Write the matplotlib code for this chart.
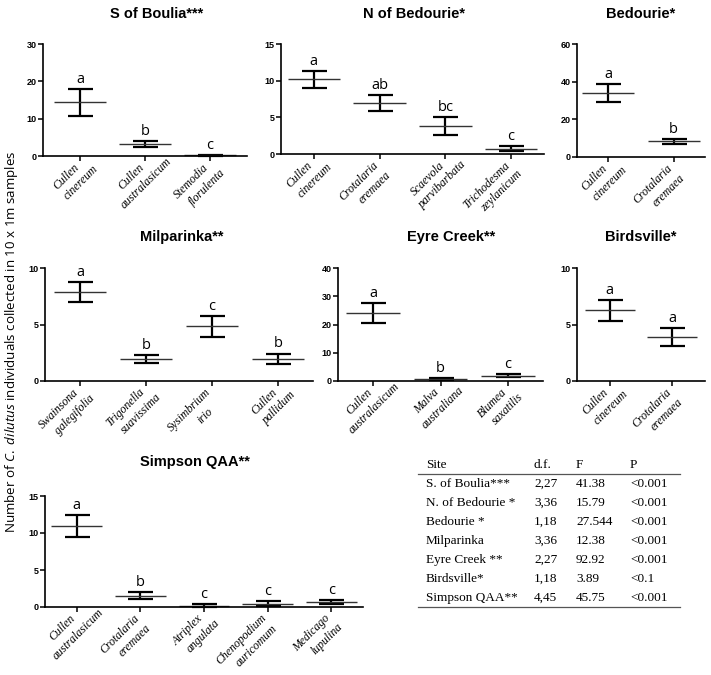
import matplotlib
matplotlib.use("Agg")
import matplotlib.pyplot as plt

# --------- DATA ----------
boulia_cats = ["Cullen\ncinereum", "Cullen\naustralasicum", "Stemodia\nflorulenta"]
boulia_mean = [14.4, 3.2, 0.2]
boulia_se = [3.6, 0.8, 0.1]
boulia_grp = ["a", "b", "c"]

nbed_cats = ["Cullen\ncinereum", "Crotalaria\neremaea", "Scaevola\nparvibarbata", "Trichodesma\nzeylanicum"]
nbed_mean = [10.2, 7.0, 3.8, 0.72]
nbed_se = [1.15, 1.1, 1.25, 0.37]
nbed_grp = ["a", "ab", "bc", "c"]

bed_cats = ["Cullen\ncinereum", "Crotalaria\neremaea"]
bed_mean = [33.8, 8.3]
bed_se = [4.7, 1.4]
bed_grp = ["a", "b"]

milp_cats = ["Swainsona\ngalegifolia", "Trigonella\nsuavissima", "Sysimbrium\nirio", "Cullen\npallidum"]
milp_mean = [7.85, 1.95, 4.85, 1.95]
milp_se = [0.9, 0.37, 0.93, 0.48]
milp_grp = ["a", "b", "c", "b"]

eyre_cats = ["Cullen\naustralasicum", "Malva\naustraliana", "Blumea\nsaxatilis"]
eyre_mean = [24.1, 0.6, 1.9]
eyre_se = [3.4, 0.4, 0.6]
eyre_grp = ["a", "b", "c"]

birds_cats = ["Cullen\ncinereum", "Crotalaria\neremaea"]
birds_mean = [6.25, 3.9]
birds_se = [0.9, 0.8]
birds_grp = ["a", "a"]

simp_cats = ["Cullen\naustralasicum", "Crotalaria\neremaea", "Atriplex\nangulata",
             "Chenopodium\nauricomum", "Medicago\nlupulina"]
simp_mean = [10.95, 1.53, 0.2, 0.45, 0.72]
simp_se = [1.45, 0.45, 0.15, 0.3, 0.27]
simp_grp = ["a", "b", "c", "c", "c"]

table_head = ["Site", "d.f.", "F", "P"]
table_site = ["S. of Boulia***", "N. of Bedourie *", "Bedourie *", "Milparinka",
              "Eyre Creek **", "Birdsville*", "Simpson QAA**"]
table_df = ["2,27", "3,36", "1,18", "3,36", "2,27", "1,18", "4,45"]
table_f = ["41.38", "15.79", "27.544", "12.38", "92.92", "3.89", "45.75"]
table_p = ["<0.001", "<0.001", "<0.001", "<0.001", "<0.001", "<0.1", "<0.001"]
# -------------------------

W, H = 711, 675
fig = plt.figure(figsize=(W / 100, H / 100), dpi=100)
plt.rcParams["mathtext.fontset"] = "custom"
plt.rcParams["mathtext.it"] = "Open Sans:italic"
plt.rcParams["mathtext.rm"] = "Open Sans"

# Prism-style rotated species labels: genus ends at the tick,
# species name centred under it, nudged along the slant
GENUS_OFF = (-3, -9.5)
SPECIES_OFF = (15.4, -6.2)
LAB = dict(rotation=45, rotation_mode="anchor", va="center", fontsize=8.5,
           family="Liberation Serif", style="italic", annotation_clip=False)


def px_axes(x0, x1, ytop, ybot):
    return fig.add_axes([x0 / W, 1 - ybot / H, (x1 - x0) / W, (ybot - ytop) / H])


def panel(box, title, title_xy, cats, mean, se, grp, ymax, ystep, pad=0.55):
    ax = px_axes(*box)
    x = list(range(len(cats)))
    ax.errorbar(x, mean, yerr=se, fmt="none", ecolor="black", elinewidth=1.6,
                capsize=9, capthick=1.6, clip_on=False)
    ax.hlines(mean, [i - 0.4 for i in x], [i + 0.4 for i in x], color="#333333",
              lw=1.0, clip_on=False)
    for i, m, e, g in zip(x, mean, se, grp):
        ax.annotate(g, (i, m + e), xytext=(0, 1.5), textcoords="offset points",
                    ha="center", va="bottom", fontsize=10.5, family="Open Sans")
    ax.set_xlim(-pad, len(cats) - 1 + pad)
    ax.set_ylim(0, ymax)
    ax.set_yticks(range(0, ymax + 1, ystep))
    ax.set_xticks(x)
    ax.set_xticklabels([])
    for i, cat in zip(x, cats):
        genus, species = cat.split("\n")
        t1 = ax.annotate(genus, (i, 0), xycoords=ax.get_xaxis_transform(),
                         xytext=GENUS_OFF, textcoords="offset pixels", ha="right", **LAB)
        ax.annotate(species, (0.5, 0.5), xycoords=t1, xytext=SPECIES_OFF,
                    textcoords="offset pixels", ha="center", **LAB)
    for lab in ax.get_yticklabels():
        lab.set_fontsize(6.5)
        lab.set_fontweight("bold")
        lab.set_family("Liberation Sans")
    ax.tick_params(axis="y", length=3.5, width=1.1, pad=1)
    ax.tick_params(axis="x", length=3.5, width=1.1)
    for s in ["top", "right"]:
        ax.spines[s].set_visible(False)
    for s in ["left", "bottom"]:
        ax.spines[s].set_linewidth(1.2)
    fig.text(title_xy[0] / W, 1 - title_xy[1] / H, title, ha="center", va="center",
             fontsize=10.5, fontweight="bold", family="Liberation Sans")
    return ax


panel((43, 247, 44, 156), "S of Boulia***", (157, 14), boulia_cats, boulia_mean,
      boulia_se, boulia_grp, 30, 10, pad=0.57)
panel((281, 544, 44, 154), "N of Bedourie*", (414, 14), nbed_cats, nbed_mean,
      nbed_se, nbed_grp, 15, 5, pad=0.5)
panel((577, 705, 44, 157), "Bedourie*", (641, 14), bed_cats, bed_mean,
      bed_se, bed_grp, 60, 20, pad=0.48)
panel((45, 313, 268, 381), "Milparinka**", (182, 237), milp_cats, milp_mean,
      milp_se, milp_grp, 10, 5, pad=0.53)
panel((338, 543, 268, 381), "Eyre Creek**", (451, 237), eyre_cats, eyre_mean,
      eyre_se, eyre_grp, 40, 10, pad=0.52)
panel((577, 705, 268, 381), "Birdsville*", (641, 237), birds_cats, birds_mean,
      birds_se, birds_grp, 10, 5, pad=0.52)
panel((45, 363, 496, 607), "Simpson QAA**", (195, 462), simp_cats, simp_mean,
      simp_se, simp_grp, 15, 5, pad=0.5)

# shared y label
fig.text(12 / W, 1 - 342 / H,
         r"Number of $\mathit{C.\ dilutus}$ individuals collected in 10 x 1m samples",
         rotation=90, ha="center", va="center", fontsize=9.6, family="Open Sans")

# ANOVA table
col_x = [426, 534, 576, 630]
tab = dict(fontsize=9.5, family="Liberation Serif", va="center", ha="left")
for cx, h in zip(col_x, table_head):
    fig.text(cx / W, 1 - 465 / H, h, **tab)
rows = zip(table_site, table_df, table_f, table_p)
for k, row in enumerate(rows):
    y = 484 + k * 19.0
    for cx, v in zip(col_x, row):
        fig.text(cx / W, 1 - y / H, v, **tab)
for ly in (473.5, 607):
    fig.add_artist(plt.Line2D([418 / W, 680 / W], [1 - ly / H, 1 - ly / H],
                              color="#555555", lw=0.9))

fig.savefig("out.png", dpi=100)
